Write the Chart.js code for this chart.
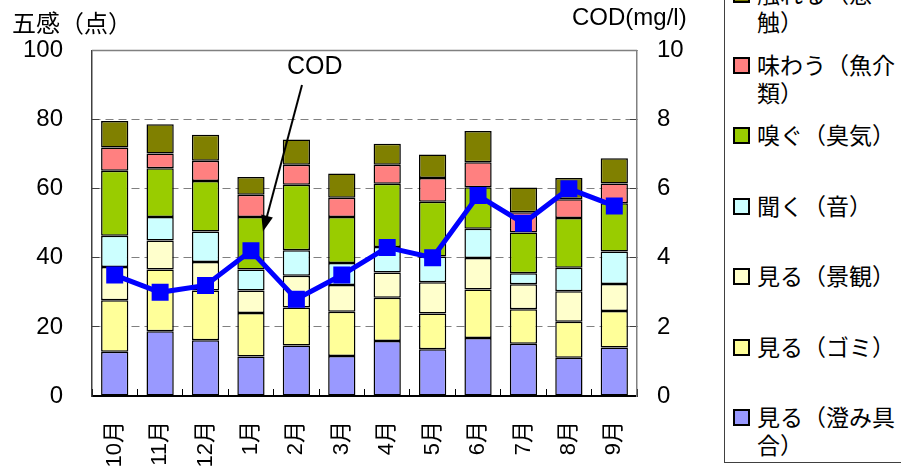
<!DOCTYPE html>
<html>
<head>
<meta charset="utf-8">
<script src="https://cdn.jsdelivr.net/npm/chart.js@4.4.1/dist/chart.umd.min.js"></script>
<style>
  body { margin: 0; background: #fff; }
  #wrap { position: relative; width: 901px; height: 470px; overflow: hidden; }
  #c { position: absolute; left: 0; top: 0; }
  .t { position: absolute; font-family: "Noto Sans CJK JP", sans-serif; color: #000; line-height: 1; white-space: nowrap; }
  #legend { position: absolute; left: 724px; top: -30px; width: 200px; height: 493px; border: 1px solid #404040; background: #fff; box-sizing: border-box; padding-top: 8px; }
  .item { position: relative; height: 70.5px; }
  .box { position: absolute; left: 8px; top: 7px; width: 13px; height: 13px; border: 2px solid #000; box-sizing: content-box; }
  .lab { position: absolute; left: 32px; top: 0; width: 145px; font-family: "Noto Sans CJK JP", sans-serif; font-size: 23px; line-height: 28px; }
</style>
</head>
<body>
<div id="wrap">
  <canvas id="c" width="901" height="470"></canvas>
  <div class="t" style="left:12px; top:10px; font-size:24px;">五感（点）</div>
  <div class="t" style="left:572px; top:5px; font-size:24px; font-family:'Liberation Sans', sans-serif;">COD(mg/l)</div>
  <div class="t" style="left:287px; top:53px; font-size:25px; font-family:'Liberation Sans', sans-serif;">COD</div>
  <div id="legend"></div>
</div>
<script>
const months = ["10月", "11月", "12月", "1月", "2月", "3月", "4月", "5月", "6月", "7月", "8月", "9月"];

const clarity = [12.8, 18.7, 16.1, 11.4, 14.6, 11.6, 15.9, 13.5, 16.8, 15.1, 11.1, 14.0];
const trash   = [14.9, 17.9, 14.4, 12.6, 11.0, 12.8, 12.5, 10.4, 14.0, 10.0, 10.4, 10.6];
const scenery = [9.6, 8.4, 8.3, 6.5, 9.2, 7.7, 7.3, 9.0, 9.1, 7.2, 8.8, 7.8];
const sound   = [9.1, 6.8, 8.8, 6.1, 7.4, 6.4, 7.4, 7.5, 8.5, 3.2, 6.8, 9.4];
const smell   = [18.8, 14.1, 14.6, 15.2, 18.9, 13.3, 18.3, 15.8, 12.0, 11.8, 14.4, 14.0];
const taste   = [6.7, 4.3, 5.9, 6.4, 5.8, 5.6, 5.5, 6.9, 7.2, 5.9, 5.4, 5.7];
const touch   = [7.7, 8.4, 7.5, 5.2, 7.3, 7.0, 6.1, 6.8, 9.1, 7.1, 6.2, 7.3];

const cod = [3.5, 3.0, 3.2, 4.2, 2.8, 3.5, 4.3, 4.0, 5.8, 5.0, 6.0, 5.5];

const seriesNames = ["見る（澄み具合）", "見る（ゴミ）", "見る（景観）", "聞く（音）", "嗅ぐ（臭気）", "味わう（魚介類）", "触れる（感触）"];
const seriesData = [clarity, trash, scenery, sound, smell, taste, touch];
const seriesColors = ["#9999FF", "#FFFF99", "#FFFFCC", "#CCFFFF", "#99CC00", "#FF8080", "#808000"];

// legend, top item first like the original
const legend = document.getElementById("legend");
for (let k = seriesNames.length - 1; k >= 0; k--) {
  const it = document.createElement("div");
  it.className = "item";
  it.innerHTML = '<div class="box" style="background:' + seriesColors[k] + '"></div><div class="lab">' + seriesNames[k] + "</div>";
  legend.appendChild(it);
}

const datasets = seriesData.map((d, k) => ({
  type: "bar",
  label: seriesNames[k],
  data: d,
  backgroundColor: seriesColors[k],
  borderColor: "#000",
  borderWidth: 1.5,
  borderSkipped: false,
  barPercentage: 0.6,
  categoryPercentage: 1,
  yAxisID: "y",
  order: 1
}));

datasets.push({
  type: "line",
  label: "COD",
  data: cod,
  borderColor: "#0000FF",
  backgroundColor: "#0000FF",
  borderWidth: 5,
  pointStyle: "rect",
  pointRadius: 12,
  pointBorderWidth: 0,
  yAxisID: "y2",
  order: 0
});

const numFont = { family: "'Liberation Sans', 'Noto Sans CJK JP', sans-serif", size: 24 };

const framePlugin = {
  id: "frame",
  beforeDatasetsDraw(chart) {
    const a = chart.chartArea;
    const ctx = chart.ctx;
    ctx.save();
    ctx.strokeStyle = "#808080";
    ctx.lineWidth = 1.5;
    ctx.beginPath();
    ctx.moveTo(a.left, a.top);
    ctx.lineTo(a.right, a.top);
    ctx.stroke();
    ctx.restore();
  },
  afterDraw(chart) {
    // arrow from the COD note down to the 1月 bar
    const xs = chart.scales.x, ys = chart.scales.y;
    const tx = xs.getPixelForValue(3) + 12;
    const ty = ys.getPixelForValue(47.6);
    const sx = 302, sy = 85;
    const ang = Math.atan2(ty - sy, tx - sx);
    const ctx = chart.ctx;
    ctx.save();
    ctx.strokeStyle = "#000";
    ctx.fillStyle = "#000";
    ctx.lineWidth = 2;
    ctx.beginPath();
    ctx.moveTo(sx, sy);
    ctx.lineTo(tx - 10 * Math.cos(ang), ty - 10 * Math.sin(ang));
    ctx.stroke();
    ctx.beginPath();
    ctx.moveTo(tx, ty);
    ctx.lineTo(tx - 16 * Math.cos(ang) + 6 * Math.sin(ang), ty - 16 * Math.sin(ang) - 6 * Math.cos(ang));
    ctx.lineTo(tx - 16 * Math.cos(ang) - 6 * Math.sin(ang), ty - 16 * Math.sin(ang) + 6 * Math.cos(ang));
    ctx.closePath();
    ctx.fill();
    ctx.restore();
  }
};

new Chart(document.getElementById("c"), {
  data: { labels: months, datasets: datasets },
  options: {
    responsive: false,
    animation: false,
    layout: { padding: { top: 43, left: 0, right: 0, bottom: 0 } },
    plugins: { legend: { display: false }, tooltip: { enabled: false } },
    scales: {
      x: {
        stacked: true,
        offset: true,
        grid: { drawOnChartArea: false, offset: true, tickLength: -7, tickColor: "#000", tickWidth: 1 },
        border: { color: "#000", width: 2 },
        ticks: { color: "#000", font: { family: "'Liberation Sans', 'Noto Sans CJK JP', sans-serif", size: 22 }, minRotation: 90, maxRotation: 90, autoSkip: false, padding: 32 },
        afterFit(s) { s.height = 74; }
      },
      y: {
        stacked: true,
        min: 0, max: 100,
        position: "left",
        grid: {
          color: c => (c.tick.value === 0 || c.tick.value === 100) ? "rgba(0,0,0,0)" : "#808080",
          lineWidth: 1,
          tickLength: -7,
          tickColor: "#404040"
        },
        border: { color: "#404040", width: 1.5, dash: [8, 5] },
        ticks: { stepSize: 20, color: "#000", font: numFont, padding: 36 },
        afterFit(s) { s.width = 92; }
      },
      y2: {
        min: 0, max: 10,
        position: "right",
        grid: { drawOnChartArea: false, tickLength: -7, tickColor: "#404040" },
        border: { color: "#808080", width: 1.5 },
        ticks: { stepSize: 2, color: "#000", font: numFont, padding: 27 },
        afterFit(s) { s.width = 264; }
      }
    }
  },
  plugins: [framePlugin]
});
</script>
</body>
</html>
